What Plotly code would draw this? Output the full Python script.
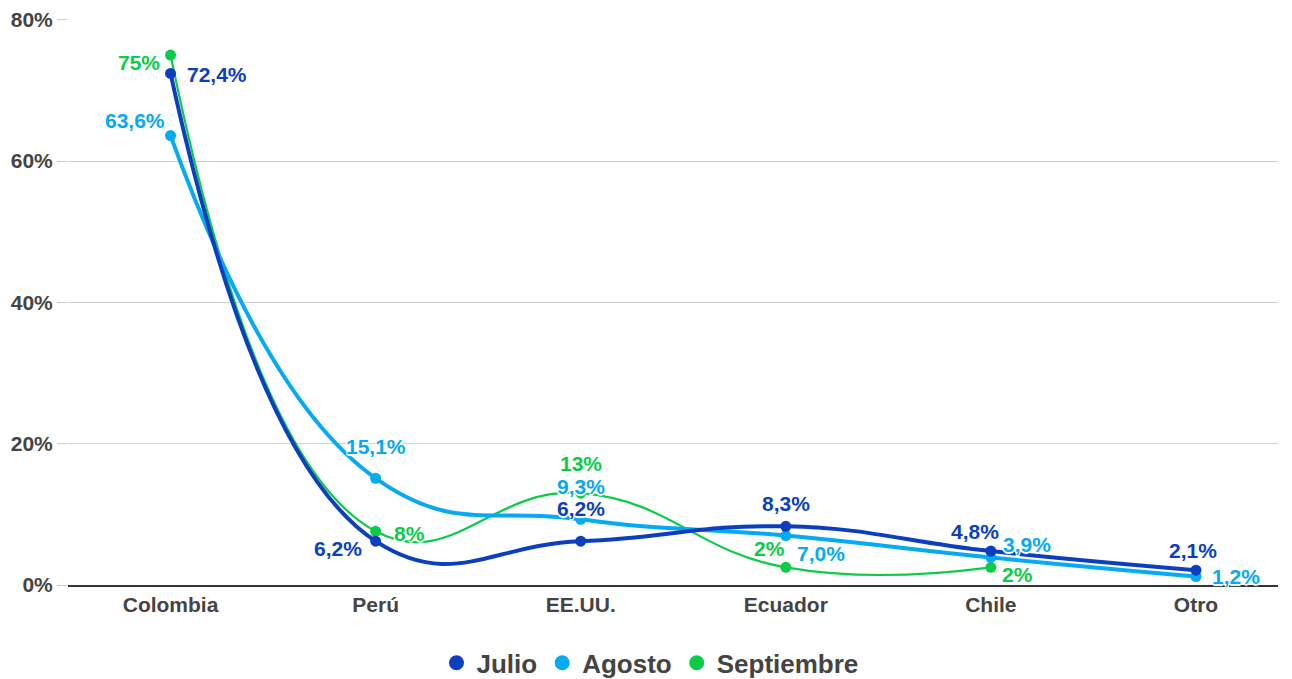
import plotly.graph_objects as go

categories = ["Colombia", "Perú", "EE.UU.", "Ecuador", "Chile", "Otro"]
julio = [72.4, 6.2, 6.2, 8.3, 4.8, 2.1]
agosto = [63.6, 15.1, 9.3, 7.0, 3.9, 1.2]
septiembre = [75.0, 7.6, 13.0, 2.5, 2.5]
julio_labels = ["72,4%", "6,2%", "6,2%", "8,3%", "4,8%", "2,1%"]
agosto_labels = ["63,6%", "15,1%", "9,3%", "7,0%", "3,9%", "1,2%"]
septiembre_labels = ["75%", "8%", "13%", "2%", "2%"]
y_ticks = [0, 20, 40, 60, 80]

C_JUL = "#0b3fbd"
C_AGO = "#06aaf2"
C_SEP = "#0bcc48"
FONT = "Liberation Sans"

# label offsets (xanchor, xshift, yshift) per point
julio_off = [("left", 14, -1), ("right", -12, -7), ("center", 0, 33), ("center", 0, 23), ("center", -16, 20), ("center", -3, 20)]
agosto_off = [("right", -4, 15), ("center", 0, 32), ("center", 0, 33), ("left", 9, -18), ("left", 10, 13), ("left", 14, 0)]
sept_off = [("right", -9, -7), ("left", 16, -2), ("center", 0, 30), ("center", -16, 19), ("left", 9, -7)]

fig = go.Figure()

series = [
    ("Septiembre", septiembre, septiembre_labels, sept_off, C_SEP, 2.2),
    ("Agosto", agosto, agosto_labels, agosto_off, C_AGO, 4),
    ("Julio", julio, julio_labels, julio_off, C_JUL, 4),
]
for name, vals, labels, offs, col, w in series:
    fig.add_trace(go.Scatter(
        x=categories[:len(vals)], y=vals, mode="lines+markers", name=name,
        line=dict(color=col, width=w, shape="spline", smoothing=1.3),
        marker=dict(size=11, color=col), showlegend=False, hoverinfo="skip"))

shadow = "1px 1px 0 white, -1px -1px 0 white, 1px -1px 0 white, -1px 1px 0 white, 0 2px 1px white, 0 -2px 1px white"
annotations = []
for name, vals, labels, offs, col, w in series:
    for cat, v, lab, (xa, xs, ys) in zip(categories, vals, labels, offs):
        annotations.append(dict(
            x=cat, y=v, xref="x", yref="y", text=lab, showarrow=False,
            xanchor=xa, yanchor="middle", xshift=xs, yshift=ys,
            font=dict(family=FONT, size=21, color=col, weight="bold", shadow=shadow)))

for name, col in [("Julio", C_JUL), ("Agosto", C_AGO), ("Septiembre", C_SEP)]:
    fig.add_trace(go.Scatter(x=[None], y=[None], mode="markers", name=name,
                             marker=dict(size=15, color=col)))

fig.update_layout(
    width=1284, height=671,
    margin=dict(l=60, r=14, t=11, b=94, autoexpand=False),
    paper_bgcolor="white", plot_bgcolor="white",
    font=dict(family=FONT, color="#444444"),
    annotations=annotations,
    showlegend=True,
    legend=dict(orientation="h", x=0.5, xanchor="center", xref="container",
                y=0.024, yanchor="middle", yref="container",
                font=dict(family=FONT, size=26, color="#444444", weight="bold"),
                itemwidth=30, traceorder="normal"),
    xaxis=dict(type="category", range=[-0.5, 5.4], showgrid=False, automargin=False,
               showline=True, linecolor="#333333", linewidth=1.5,
               tickfont=dict(family=FONT, size=21, color="#444444", weight="bold"),
               ticks="", zeroline=False, fixedrange=True),
    yaxis=dict(range=[0, 80.1], tickvals=y_ticks, ticktext=[f"{t}%" for t in y_ticks],
               automargin=False, ticklabeloverflow="allow",
               showgrid=True, gridcolor="#d0d0d0", gridwidth=1,
               ticks="outside", ticklen=10, tickcolor="#cccccc",
               tickfont=dict(family=FONT, size=21, color="#444444", weight="bold"),
               zeroline=False, showline=False, fixedrange=True),
)

fig.write_html("out.html")
